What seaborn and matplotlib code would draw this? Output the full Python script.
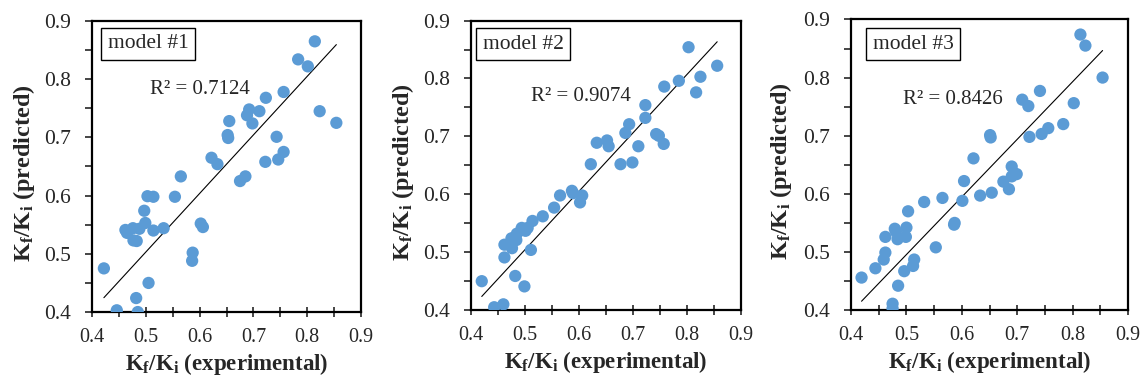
import matplotlib
matplotlib.use('Agg')
import matplotlib.pyplot as plt
from matplotlib.ticker import MultipleLocator
import seaborn as sns
import numpy as np
import pandas as pd

# model #1
m1_exp = [0.422, 0.446, 0.485, 0.482, 0.505, 0.462, 0.465, 0.476, 0.488, 0.477,
          0.483, 0.499, 0.497, 0.503, 0.514, 0.514, 0.533, 0.554, 0.565, 0.587,
          0.586, 0.602, 0.606, 0.622, 0.633, 0.652, 0.653, 0.655, 0.675, 0.685,
          0.688, 0.692, 0.698, 0.711, 0.723, 0.722, 0.743, 0.746, 0.756, 0.756,
          0.783, 0.801, 0.814, 0.823, 0.854]
m1_pred = [0.475, 0.403, 0.400, 0.424, 0.450, 0.541, 0.536, 0.544, 0.543, 0.523,
           0.522, 0.553, 0.574, 0.599, 0.598, 0.540, 0.544, 0.598, 0.633, 0.502,
           0.488, 0.552, 0.546, 0.665, 0.654, 0.704, 0.699, 0.728, 0.625, 0.633,
           0.738, 0.748, 0.724, 0.745, 0.768, 0.658, 0.701, 0.662, 0.675, 0.778,
           0.834, 0.822, 0.865, 0.745, 0.725]

# model #2
m2_exp = [0.420, 0.443, 0.460, 0.482, 0.499, 0.462, 0.462, 0.476, 0.475, 0.484,
          0.485, 0.494, 0.501, 0.505, 0.511, 0.514, 0.533, 0.554, 0.565, 0.587,
          0.589, 0.602, 0.606, 0.622, 0.633, 0.652, 0.655, 0.677, 0.686, 0.693,
          0.699, 0.710, 0.723, 0.723, 0.743, 0.748, 0.757, 0.758, 0.785, 0.803,
          0.817, 0.825, 0.856]
m2_pred = [0.450, 0.405, 0.410, 0.459, 0.441, 0.491, 0.513, 0.507, 0.524, 0.521,
           0.532, 0.542, 0.537, 0.542, 0.504, 0.554, 0.562, 0.577, 0.598, 0.606,
           0.602, 0.586, 0.598, 0.652, 0.689, 0.693, 0.683, 0.652, 0.706, 0.721,
           0.655, 0.683, 0.732, 0.754, 0.704, 0.701, 0.687, 0.786, 0.796, 0.854,
           0.776, 0.803, 0.822]

# model #3
m3_exp = [0.419, 0.444, 0.459, 0.462, 0.462, 0.475, 0.475, 0.485, 0.479, 0.481,
          0.484, 0.499, 0.500, 0.496, 0.503, 0.512, 0.514, 0.532, 0.553, 0.565,
          0.586, 0.587, 0.601, 0.604, 0.621, 0.633, 0.651, 0.652, 0.654, 0.675,
          0.685, 0.690, 0.690, 0.699, 0.709, 0.720, 0.722, 0.741, 0.744, 0.756,
          0.783, 0.802, 0.814, 0.823, 0.854]
m3_pred = [0.456, 0.472, 0.487, 0.499, 0.526, 0.411, 0.403, 0.442, 0.540, 0.535,
           0.522, 0.526, 0.542, 0.467, 0.570, 0.476, 0.487, 0.586, 0.508, 0.593,
           0.547, 0.550, 0.588, 0.622, 0.661, 0.597, 0.701, 0.697, 0.602, 0.621,
           0.608, 0.647, 0.630, 0.634, 0.762, 0.751, 0.698, 0.777, 0.703, 0.713,
           0.720, 0.756, 0.874, 0.855, 0.800]

model_names = ['model #1', 'model #2', 'model #3']
r2_labels = ['R² = 0.7124', 'R² = 0.9074', 'R² = 0.8426']

sns.set_style('white')
plt.rcParams['font.family'] = ['Liberation Serif', 'DejaVu Serif']
plt.rcParams['mathtext.fontset'] = 'custom'
plt.rcParams['mathtext.rm'] = 'Liberation Serif'
plt.rcParams['mathtext.bf'] = 'Liberation Serif:bold'

fig = plt.figure(figsize=(11.42, 3.81), dpi=100)

# axes boxes [left, bottom, width, height] in figure fraction
boxes = [[0.0806, 0.181, 0.2356, 0.764],
         [0.4124, 0.186, 0.2364, 0.760],
         [0.7452, 0.186, 0.2426, 0.763]]
model_pos = [(0.208, 0.921), (0.194, 0.918), (0.224, 0.915)]
r2_pos = [(0.508, 0.782), (0.511, 0.769), (0.494, 0.762)]

data = [(m1_exp, m1_pred), (m2_exp, m2_pred), (m3_exp, m3_pred)]

for i, (xs, ys) in enumerate(data):
    ax = fig.add_axes(boxes[i])
    df = pd.DataFrame({'exp': xs, 'pred': ys})
    # linear trendline through the origin (intercept = 0)
    x = np.array(xs)
    y = np.array(ys)
    b = (x * y).sum() / (x * x).sum()
    xl = np.array([x.min(), x.max()])
    sns.lineplot(x=xl, y=b * xl, ax=ax, color='black', lw=0.8)
    sns.scatterplot(x='exp', y='pred', data=df, ax=ax, color='#5B9BD5',
                    s=78, edgecolor='none', zorder=3)
    ax.set_xlim(0.4, 0.9)
    ax.set_ylim(0.4, 0.9)
    ax.xaxis.set_major_locator(MultipleLocator(0.1))
    ax.yaxis.set_major_locator(MultipleLocator(0.1))
    ax.xaxis.set_minor_locator(MultipleLocator(0.05))
    ax.yaxis.set_minor_locator(MultipleLocator(0.05))
    ax.xaxis.set_major_formatter(plt.FuncFormatter(lambda v, p: f'{v:.1f}'))
    ax.yaxis.set_major_formatter(plt.FuncFormatter(lambda v, p: f'{v:.1f}'))
    ax.tick_params(axis='x', which='both', direction='inout', length=7, width=1.2,
                   labelsize=14.5, pad=8, bottom=True)
    ax.tick_params(axis='y', which='both', direction='out', length=5, width=1.2,
                   labelsize=15.5, pad=10, left=True)
    for sp in ax.spines.values():
        sp.set_color('black')
        sp.set_linewidth(1.6)
    ax.set_xlabel(r'$\mathbf{K_f}$/$\mathbf{K_i}$ (experimental)',
                  fontsize=16.5, fontweight='bold')
    ax.set_ylabel(r'$\mathbf{K_f}$/$\mathbf{K_i}$ (predicted)',
                  fontsize=17.5, fontweight='bold')
    ax.xaxis.set_label_coords(0.5, -0.135)
    ax.yaxis.set_label_coords(-0.205, 0.478)
    ax.text(model_pos[i][0], model_pos[i][1], model_names[i], transform=ax.transAxes,
            ha='center', va='center', fontsize=15.5,
            bbox=dict(boxstyle='square,pad=0.3', fc='white', ec='black', lw=1))
    ax.text(r2_pos[i][0], r2_pos[i][1], r2_labels[i], ha='left', va='center',
            fontsize=15)

fig.savefig('out.png', dpi=100)
